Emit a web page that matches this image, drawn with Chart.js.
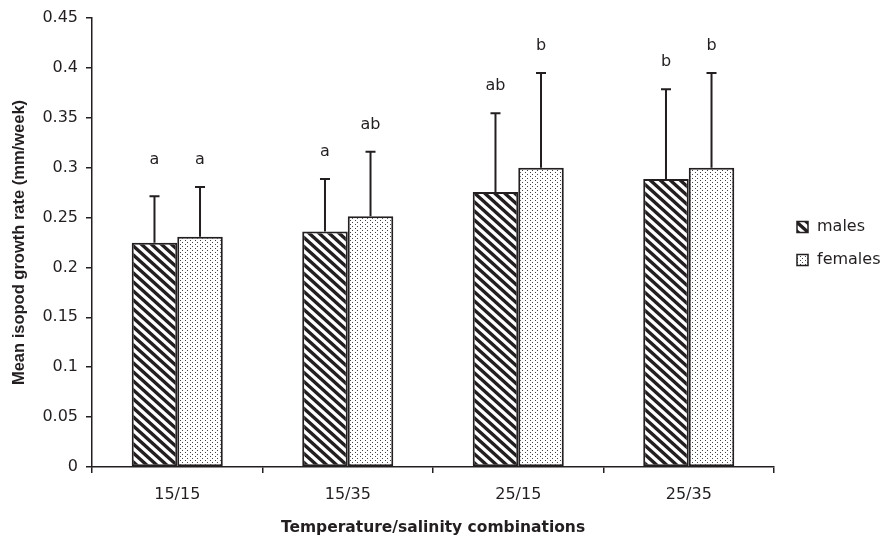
<!DOCTYPE html>
<html><head><meta charset="utf-8">
<script src="https://cdn.jsdelivr.net/npm/chart.js@4"></script>
<style>html,body{margin:0;padding:0;background:#fff}</style>
</head><body>
<canvas id="c" width="886" height="539"></canvas>
<script>
// ---- data ----
const categories = ['15/15', '15/35', '25/15', '25/35'];
const seriesNames = ['males', 'females'];
const malesMean = [0.2247, 0.236, 0.2755, 0.2886];
const malesSD = [0.0466, 0.0526, 0.079, 0.090];
const femalesMean = [0.2307, 0.2513, 0.300, 0.300];
const femalesSD = [0.0498, 0.0647, 0.095, 0.095];
const malesLetters = ['a', 'a', 'ab', 'b'];
const femalesLetters = ['a', 'ab', 'b', 'b'];
const yTickValues = [0, 0.05, 0.1, 0.15, 0.2, 0.25, 0.3, 0.35, 0.4, 0.45];
const yTickLabels = ['0', '0.05', '0.1', '0.15', '0.2', '0.25', '0.3', '0.35', '0.4', '0.45'];
const xTitle = 'Temperature/salinity combinations';
const yTitle = 'Mean isopod growth rate (mm/week)';

// ---- style ----
const INK = '#231f20';
const HFONT = "'DejaVu Sans', sans-serif";          // horizontal text
const VFONT = "'Liberation Sans', Arial, sans-serif"; // rotated title

function stripePattern(ctx) {
  const w = 10, h = 9;
  const t = document.createElement('canvas');
  t.width = w; t.height = h;
  const g = t.getContext('2d');
  g.fillStyle = '#fff'; g.fillRect(0, 0, w, h);
  g.strokeStyle = INK; g.lineWidth = 3.4;
  g.beginPath();
  for (const k of [-w, 0, w]) { g.moveTo(k - w * 0.3, -h * 0.3); g.lineTo(k + w * 1.3, h * 1.3); }
  g.stroke();
  return ctx.createPattern(t, 'repeat');
}
function dotPattern(ctx) {
  const t = document.createElement('canvas');
  t.width = 10; t.height = 4;
  const g = t.getContext('2d');
  g.fillStyle = '#fff'; g.fillRect(0, 0, 10, 4);
  g.fillStyle = '#444';
  g.fillRect(0, 0, 1, 1); g.fillRect(5, 0, 1, 1);
  g.fillRect(2, 2, 1, 1); g.fillRect(7, 2, 1, 1);
  return ctx.createPattern(t, 'repeat');
}

const canvas = document.getElementById('c');
const ctx0 = canvas.getContext('2d');
const malesFill = stripePattern(ctx0);
const femalesFill = dotPattern(ctx0);

const errPlugin = {
  id: 'errbars',
  afterDatasetsDraw(chart) {
    const ctx = chart.ctx, ys = chart.scales.y;
    const caps = [];
    chart.data.datasets.forEach((ds, di) => {
      const meta = chart.getDatasetMeta(di);
      caps[di] = [];
      meta.data.forEach((bar, i) => {
        const top = ys.getPixelForValue(ds.data[i] + ds.sd[i]);
        ctx.save();
        ctx.strokeStyle = INK; ctx.lineWidth = 2;
        ctx.beginPath();
        ctx.moveTo(bar.x, bar.y); ctx.lineTo(bar.x, top);
        ctx.moveTo(bar.x - 5, top); ctx.lineTo(bar.x + 5, top);
        ctx.stroke();
        ctx.restore();
        caps[di][i] = { x: bar.x, top };
      });
    });
    // significance letters
    ctx.save();
    ctx.fillStyle = INK;
    ctx.font = '16px ' + HFONT;
    ctx.textAlign = 'center'; ctx.textBaseline = 'middle';
    for (let i = 0; i < categories.length; i++) {
      const a = caps[0][i], b = caps[1][i];
      let ya = a.top - 27, yb = b.top - 27;
      if (Math.abs(a.top - b.top) < 12) { ya = yb = Math.min(ya, yb); }
      ctx.fillText(chart.data.datasets[0].letters[i], a.x, ya);
      ctx.fillText(chart.data.datasets[1].letters[i], b.x, yb);
    }
    ctx.restore();
  }
};

const legendPlugin = {
  id: 'customLegend',
  afterDraw(chart) {
    const ctx = chart.ctx, ca = chart.chartArea;
    const x0 = ca.right + 23;
    const rowsY = [227, 260];
    ctx.save();
    chart.data.datasets.forEach((ds, i) => {
      const y = rowsY[i];
      ctx.fillStyle = ds.backgroundColor;
      ctx.fillRect(x0, y - 5.5, 11, 11);
      ctx.strokeStyle = INK; ctx.lineWidth = 1.5;
      ctx.strokeRect(x0, y - 5.5, 11, 11);
      ctx.fillStyle = INK;
      ctx.font = '16px ' + HFONT;
      ctx.textAlign = 'left'; ctx.textBaseline = 'middle';
      ctx.fillText(ds.label, x0 + 20, y);
    });
    ctx.restore();
  }
};

new Chart(canvas, {
  type: 'bar',
  data: {
    labels: categories,
    datasets: [
      { label: seriesNames[0], data: malesMean, sd: malesSD, letters: malesLetters,
        backgroundColor: malesFill, borderColor: INK, borderWidth: 2, borderSkipped: false },
      { label: seriesNames[1], data: femalesMean, sd: femalesSD, letters: femalesLetters,
        backgroundColor: femalesFill, borderColor: INK, borderWidth: 2, borderSkipped: false }
    ]
  },
  options: {
    responsive: false,
    devicePixelRatio: 1,
    animation: false,
    datasets: { bar: { categoryPercentage: 0.534, barPercentage: 1.0 } },
    layout: { padding: { top: 18, right: 112, bottom: 0, left: 0 } },
    plugins: { legend: { display: false }, tooltip: { enabled: false } },
    scales: {
      x: {
        offset: true,
        grid: { display: true, drawOnChartArea: false, drawTicks: true, tickLength: 6,
                color: INK, lineWidth: 1.5, offset: true },
        border: { display: true, color: INK, width: 1.5 },
        ticks: { color: INK, font: { family: HFONT, size: 16 }, padding: 12, maxRotation: 0 },
        title: { display: true, text: xTitle, color: INK,
                 font: { family: HFONT, size: 15.5, weight: 'bold' }, padding: { top: 0, bottom: 2 } },
        afterFit(scale) { scale.height = 72; }
      },
      y: {
        min: 0, max: 0.45,
        afterBuildTicks(scale) { scale.ticks = yTickValues.map(v => ({ value: v })); },
        grid: { display: true, drawOnChartArea: false, drawTicks: true, tickLength: 6,
                color: INK, lineWidth: 1.5 },
        border: { display: true, color: INK, width: 1.5 },
        ticks: { color: INK, font: { family: HFONT, size: 16 }, padding: 8,
                 callback: (v, i) => yTickLabels[i] },
        title: { display: true, text: yTitle, color: INK,
                 font: { family: VFONT, size: 16.5, weight: 'bold' }, padding: { top: 10, bottom: 0 } },
        afterFit(scale) { scale.width = 92; }
      }
    }
  },
  plugins: [errPlugin, legendPlugin]
});
</script>
</body></html>
